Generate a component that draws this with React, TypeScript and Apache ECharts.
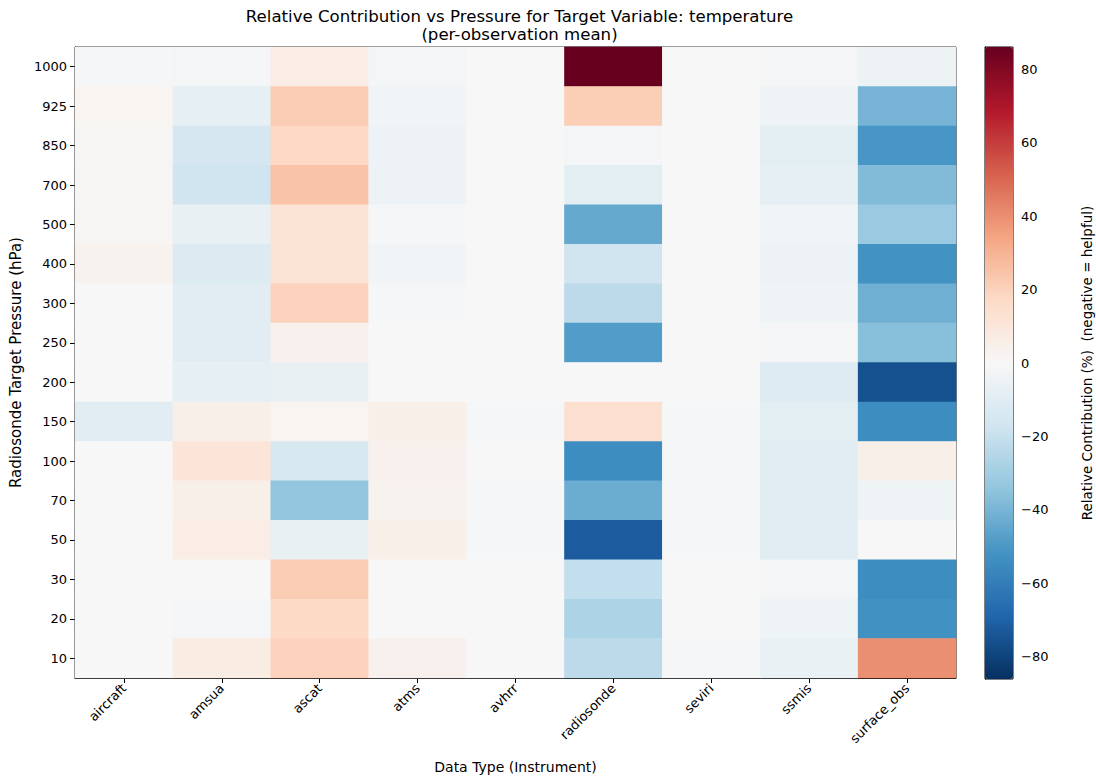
import React, { useEffect, useRef } from "react";
import * as echarts from "echarts";

const pressures = ["1000", "925", "850", "700", "500", "400", "300", "250", "200", "150", "100", "70", "50", "30", "20", "10"];
const instruments = ["aircraft", "amsua", "ascat", "atms", "avhrr", "radiosonde", "seviri", "ssmis", "surface_obs"];

// values per instrument, ordered by pressure level 1000 -> 10 hPa
const aircraft = [-1, 2, 1, 1, 1, 3, 0, 0, 0, -10, 0, 0, 0, 0, 0, 0];
const amsua = [-2, -8, -15, -17, -7, -12, -10, -9.5, -8, 5, 11, 5, 6, 0, -2, 7];
const ascat = [6, 22, 18, 25, 12, 12, 20, 4, -7, 2, -14, -34, -7, 22, 17.5, 20];
const atms = [-2, -3, -5, -5, -1, -3, -1, 0, 0, 5, 4, 3, 5, 0, 0, 4];
const avhrr = [0, 0, 0, 0, 0, 0, 0, 0, 0, -1, 0, -1, -1, 0, 0, 0];
const radiosonde = [86, 21.5, -2, -9, -44, -17, -23, -48.5, 0, 14.5, -54, -43, -72, -21, -27, -23];
const seviri = [0, 0, 0, 0, 0, 0, 0, 0, 0, -1, -1, -1, -1, 0, 0, -1];
const ssmis = [-2, -4, -9, -8, -3, -5, -4, -2, -11, -9, -10, -10, -10, -2, -4, -6];
const surfaceObs = [-4.5, -40.5, -50.5, -38, -32, -52, -42, -36.5, -75.5, -54, 5, -4, 0, -54, -52.5, 40];

const columns = [aircraft, amsua, ascat, atms, avhrr, radiosonde, seviri, ssmis, surfaceObs];

const colorbarTicks = [-80, -60, -40, -20, 0, 20, 40, 60, 80];
const vLimit = 86;

const rdbuR = ["#053061", "#2166ac", "#4393c3", "#92c5de", "#d1e5f0", "#f7f7f7", "#fddbc7", "#f4a582", "#d6604d", "#b2182b", "#67001f"];

export default function App() {
  const ref = useRef<HTMLDivElement>(null);
  useEffect(() => {
    document.body.style.margin = "0";
    const chart = echarts.init(ref.current!, null, { renderer: "svg" });
    const data: [number, number, number][] = [];
    columns.forEach((col, xi) => col.forEach((v, yi) => data.push([xi, yi, v])));
    const font = "DejaVu Sans";
    const plot = { left: 73, top: 47, width: 883, height: 632 };
    const cb = { left: 985, top: 47, width: 28, height: 632 };
    chart.setOption({
      animation: false,
      backgroundColor: "#ffffff",
      textStyle: { fontFamily: font },
      title: {
        text: "Relative Contribution vs Pressure for Target Variable: temperature\n(per-observation mean)",
        left: plot.left + plot.width / 2,
        textAlign: "center",
        top: 2,
        textStyle: { fontFamily: font, fontSize: 16.6, fontWeight: "normal", color: "#000", lineHeight: 18 },
      },
      grid: [
        { ...plot, show: true, borderColor: "#000", borderWidth: 1, containLabel: false },
        { ...cb, show: true, borderColor: "#000", borderWidth: 1, containLabel: false },
      ],
      graphic: [
        {
          type: "text",
          x: 1087,
          y: cb.top + cb.height / 2,
          rotation: Math.PI / 2,
          style: {
            text: "Relative Contribution (%)  (negative = helpful)",
            font: `13.5px "${font}"`,
            fill: "#000",
            align: "center",
            verticalAlign: "middle",
          },
        },
      ],
      xAxis: [
        {
          gridIndex: 0,
          type: "category",
          data: instruments,
          splitArea: { show: false },
          axisLine: { show: true, lineStyle: { color: "#000" } },
          axisTick: { show: true, alignWithLabel: true, length: 5, lineStyle: { color: "#000" } },
          axisLabel: { rotate: 45, color: "#000", fontSize: 13, fontFamily: font, margin: 8 },
          name: "Data Type (Instrument)",
          nameLocation: "middle",
          nameGap: 82,
          nameTextStyle: { color: "#000", fontSize: 14, fontFamily: font },
        },
        { gridIndex: 1, type: "value", show: false, min: 0, max: 1 },
      ],
      yAxis: [
        {
          gridIndex: 0,
          type: "category",
          data: pressures,
          inverse: true,
          axisLine: { show: true, lineStyle: { color: "#000" } },
          axisTick: { show: true, alignWithLabel: true, length: 5, lineStyle: { color: "#000" } },
          axisLabel: { color: "#000", fontSize: 13, fontFamily: font, margin: 8 },
          name: "Radiosonde Target Pressure (hPa)",
          nameLocation: "middle",
          nameGap: 49,
          nameTextStyle: { color: "#000", fontSize: 15, fontFamily: font },
        },
        {
          gridIndex: 1,
          type: "value",
          position: "right",
          min: -vLimit,
          max: vLimit,
          splitLine: { show: false },
          axisLine: { show: true, lineStyle: { color: "#000" } },
          axisTick: { show: true, length: 5, customValues: colorbarTicks, lineStyle: { color: "#000" } },
          axisLabel: {
            color: "#000",
            fontSize: 13,
            fontFamily: font,
            margin: 8,
            customValues: colorbarTicks,
            formatter: (v: number) => (v < 0 ? "\u2212" + Math.abs(v) : String(v)),
          },
        },
      ],
      visualMap: {
        type: "continuous",
        min: -vLimit,
        max: vLimit,
        calculable: false,
        seriesIndex: 0,
        orient: "vertical",
        left: cb.left,
        top: cb.top,
        itemWidth: cb.width,
        itemHeight: cb.height,
        padding: 0,
        text: ["", ""],
        textGap: 0,
        showLabel: false,
        hoverLink: false,
        inRange: { color: rdbuR },
      },
      series: [
        {
          type: "heatmap",
          xAxisIndex: 0,
          yAxisIndex: 0,
          data,
          itemStyle: { borderWidth: 0 },
          emphasis: { disabled: true },
        },
      ],
    });
    return () => chart.dispose();
  }, []);
  return <div ref={ref} style={{ position: "fixed", left: 0, top: 0, width: 1096, height: 779 }} />;
}
